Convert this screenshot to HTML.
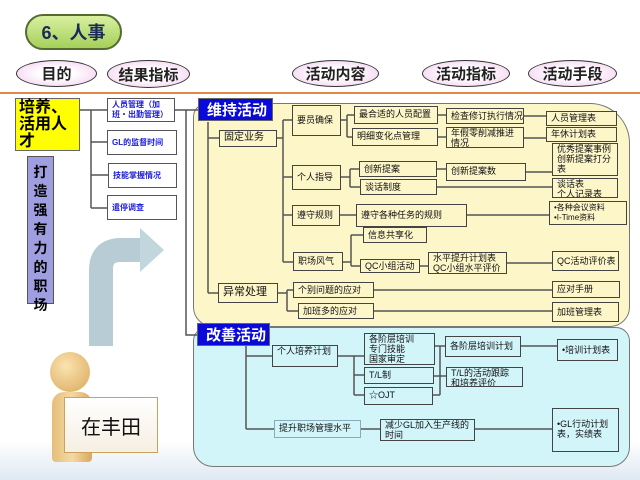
<!DOCTYPE html>
<html><head><meta charset="utf-8"><style>
body{margin:0;width:640px;height:480px;overflow:hidden;position:relative;font-family:"Liberation Sans","Noto Sans CJK SC",sans-serif;background:linear-gradient(#fff 0,#fff 440px,#dfe9f2 480px)}
.a{position:absolute;box-sizing:border-box}
.b{position:absolute;box-sizing:border-box;border:1.5px solid #444;font-size:9px;line-height:10px;padding:2px 4px;color:#111;background:#fdf6c9;white-space:nowrap;overflow:hidden}
.c{background:#d2f5fa}
.r{position:absolute;box-sizing:border-box;border:1.5px solid #555;background:#fff;color:#1a1adf;font-weight:bold;font-size:8px;line-height:10px;padding:2px 4px;display:flex;align-items:center}
.e{position:absolute;box-sizing:border-box;border:1.5px solid #333;border-radius:50%;background:radial-gradient(#fff 30%,#f2c8ec 100%);font-size:15px;font-weight:bold;display:flex;align-items:center;justify-content:center;color:#222}
.h{position:absolute;box-sizing:border-box;background:#0a0ad8;color:#fff;font-weight:bold;font-size:15px;display:flex;align-items:center;padding-left:8px;border:1px solid #666}
</style></head><body>
<div class="a" style="left:25px;top:14px;width:97px;height:36px;border-radius:18px;border:2px solid #556b2f;background:linear-gradient(#d8f0a0,#a5d05a);font-size:18px;font-weight:bold;color:#1a2a5a;display:flex;align-items:center;justify-content:center">6、人事</div>
<div class="e" style="left:16px;top:60px;width:81px;height:27px">目的</div>
<div class="e" style="left:107px;top:60px;width:83px;height:28px">结果指标</div>
<div class="e" style="left:292px;top:60px;width:87px;height:27px">活动内容</div>
<div class="e" style="left:422px;top:60px;width:88px;height:27px">活动指标</div>
<div class="e" style="left:528px;top:60px;width:89px;height:27px">活动手段</div>
<div class="a" style="left:0;top:92px;width:640px;height:2px;background:#e08848"></div>

<div class="a" style="left:193px;top:103px;width:437px;height:224px;background:#fdf6c9;border:1.5px solid #777;border-radius:14px 40px 20px 20px"></div>
<div class="a" style="left:193px;top:327px;width:437px;height:140px;background:#d2f5fa;border:1.5px solid #777;border-radius:14px 14px 20px 20px"></div>

<svg class="a" style="left:0;top:0" width="640" height="480" stroke="#555" stroke-width="1.5" fill="none">
<path d="M80 110H91M91 110V208M91 110H107M91 142H107M91 175H108M91 208H107M175 110H198M186 110V335H197"/>
<path d="M208 122V293M208 138H219M208 293H218M277 138H283M283 120V262M283 120H292M283 177H292M283 215H292M283 262H293"/>
<path d="M341 120H347M347 115V137M347 115H354M347 137H352M438 115H446M438 137H446M524 116H546M524 138H546"/>
<path d="M341 177H350M350 169V187M350 169H359M350 187H360M437 169H446M526 172H552M437 187H552"/>
<path d="M340 215H356M467 215H549M343 262H351M351 235V266M351 235H363M351 266H360M420 266H428M507 263H552"/>
<path d="M278 293H287M287 290V311M287 290H293M287 311H298M374 290H552M374 311H552"/>
<path d="M246 346V429M246 356H272M246 429H274M338 356H354M354 356V395M354 356H364M354 375H364M354 395H364"/>
<path d="M435 346H440M434 376H440M433 395H440M440 346V395M440 346H445M440 376H446M521 346H557M361 429H380M475 429H552"/>
<path d="M101 346V270Q101 250 121 250H145" stroke="#b8ccd6" stroke-width="24"/>
<path d="M140 228L164 250L140 272Z" fill="#c2d6de" stroke="none"/>
</svg>

<div class="a" style="left:15px;top:98px;width:65px;height:53px;background:#ffff00;border:1.5px solid #666;font-size:16px;font-weight:bold;line-height:17px;padding:0 3px">培养、活用人才</div>
<div class="a" style="left:27px;top:156px;width:27px;height:148px;background:#9e9ee0;border:1.5px solid #555;font-size:14px;font-weight:bold;line-height:19px;text-align:center;padding-top:6px">打造强有力的职场</div>
<div class="r" style="left:107px;top:98px;width:68px;height:24px">人员管理（加班・出勤管理）</div>
<div class="r" style="left:107px;top:130px;width:70px;height:25px">GL的监督时间</div>
<div class="r" style="left:108px;top:163px;width:69px;height:25px">技能掌握情况</div>
<div class="r" style="left:107px;top:195px;width:70px;height:25px">遣停调查</div>

<div class="h" style="left:198px;top:98px;width:75px;height:23px">维持活动</div>
<div class="h" style="left:197px;top:323px;width:73px;height:23px">改善活动</div>

<div class="b" style="left:219px;top:130px;width:58px;height:17px;font-size:10px">固定业务</div>
<div class="b" style="left:292px;top:105px;width:49px;height:31px;padding-top:9px">要员确保</div>
<div class="b" style="left:354px;top:106px;width:84px;height:18px">最合适的人员配置</div>
<div class="b" style="left:352px;top:128px;width:86px;height:18px">明细变化点管理</div>
<div class="b" style="left:446px;top:108px;width:78px;height:16px">检查修订执行情况</div>
<div class="b" style="left:446px;top:127px;width:78px;height:21px;white-space:normal;padding-top:0">年假零削减推进情况</div>
<div class="b" style="left:546px;top:111px;width:71px;height:15px;padding-top:1px">人员管理表</div>
<div class="b" style="left:546px;top:127px;width:71px;height:15px;padding-top:1px">年休计划表</div>
<div class="b" style="left:292px;top:165px;width:49px;height:25px;padding-top:6px">个人指导</div>
<div class="b" style="left:359px;top:161px;width:78px;height:16px">创新提案</div>
<div class="b" style="left:360px;top:179px;width:77px;height:16px">谈话制度</div>
<div class="b" style="left:446px;top:163px;width:80px;height:18px">创新提案数</div>
<div class="b" style="left:552px;top:143px;width:66px;height:33px;white-space:normal;padding-top:0">优秀提案事例创新提案打分表</div>
<div class="b" style="left:552px;top:178px;width:66px;height:20px;padding-top:0">谈话表<br>个人记录表</div>
<div class="b" style="left:292px;top:205px;width:48px;height:21px;padding-top:4px">遵守规则</div>
<div class="b" style="left:356px;top:204px;width:111px;height:23px;padding-top:5px">遵守各种任务的规则</div>
<div class="b" style="left:549px;top:201px;width:78px;height:24px;font-size:8px;padding-top:1px">•各种会议资料<br>•I-Time资料</div>
<div class="b" style="left:363px;top:227px;width:64px;height:16px">信息共享化</div>
<div class="b" style="left:293px;top:252px;width:50px;height:19px;padding-top:3px">职场风气</div>
<div class="b" style="left:360px;top:259px;width:60px;height:14px;padding-top:1px">QC小组活动</div>
<div class="b" style="left:428px;top:252px;width:79px;height:22px;padding-top:0">水平提升计划表<br>QC小组水平评价</div>
<div class="b" style="left:552px;top:251px;width:67px;height:20px;padding-top:4px">QC活动评价表</div>
<div class="b" style="left:218px;top:283px;width:60px;height:20px;font-size:11px;padding-top:3px">异常处理</div>
<div class="b" style="left:293px;top:282px;width:81px;height:16px">个别问题的应对</div>
<div class="b" style="left:298px;top:303px;width:76px;height:16px">加班多的应对</div>
<div class="b" style="left:552px;top:281px;width:68px;height:17px">应对手册</div>
<div class="b" style="left:552px;top:302px;width:67px;height:20px;padding-top:4px">加班管理表</div>

<div class="b c" style="left:272px;top:345px;width:66px;height:22px;padding-top:0;white-space:normal">个人培养计划</div>
<div class="b c" style="left:364px;top:333px;width:71px;height:32px;padding-top:0">各阶层培训<br>专门技能<br>国家审定</div>
<div class="b c" style="left:364px;top:367px;width:70px;height:17px">T/L制</div>
<div class="b c" style="left:364px;top:387px;width:69px;height:18px">☆OJT</div>
<div class="b c" style="left:445px;top:336px;width:76px;height:21px;padding-top:4px">各阶层培训计划</div>
<div class="b c" style="left:446px;top:367px;width:77px;height:20px;padding-top:0">T/L的活动跟踪<br>和培养评价</div>
<div class="b c" style="left:557px;top:339px;width:61px;height:22px;padding-top:5px">•培训计划表</div>
<div class="b c" style="left:274px;top:420px;width:87px;height:18px;border-color:#8ab">提升职场管理水平</div>
<div class="b c" style="left:380px;top:419px;width:95px;height:22px;padding-top:0">减少GL加入生产线的<br>时间</div>
<div class="b c" style="left:552px;top:408px;width:67px;height:44px;white-space:normal;padding-top:10px">•GL行动计划表，实绩表</div>

<div class="a" style="left:50px;top:352px;width:40px;height:40px;border-radius:50%;background:radial-gradient(circle at 40% 35%,#fbe3b0,#d9a85a)"></div>
<div class="a" style="left:52px;top:392px;width:40px;height:70px;border-radius:12px 12px 4px 4px;background:linear-gradient(90deg,#e6be78,#f4d9a4,#d8a85e)"></div>
<div class="a" style="left:64px;top:397px;width:94px;height:56px;background:linear-gradient(#fff,#f6efe2);border:1.5px solid #caa25e;font-size:20px;display:flex;align-items:center;justify-content:center;color:#111">在丰田</div>
</body></html>
